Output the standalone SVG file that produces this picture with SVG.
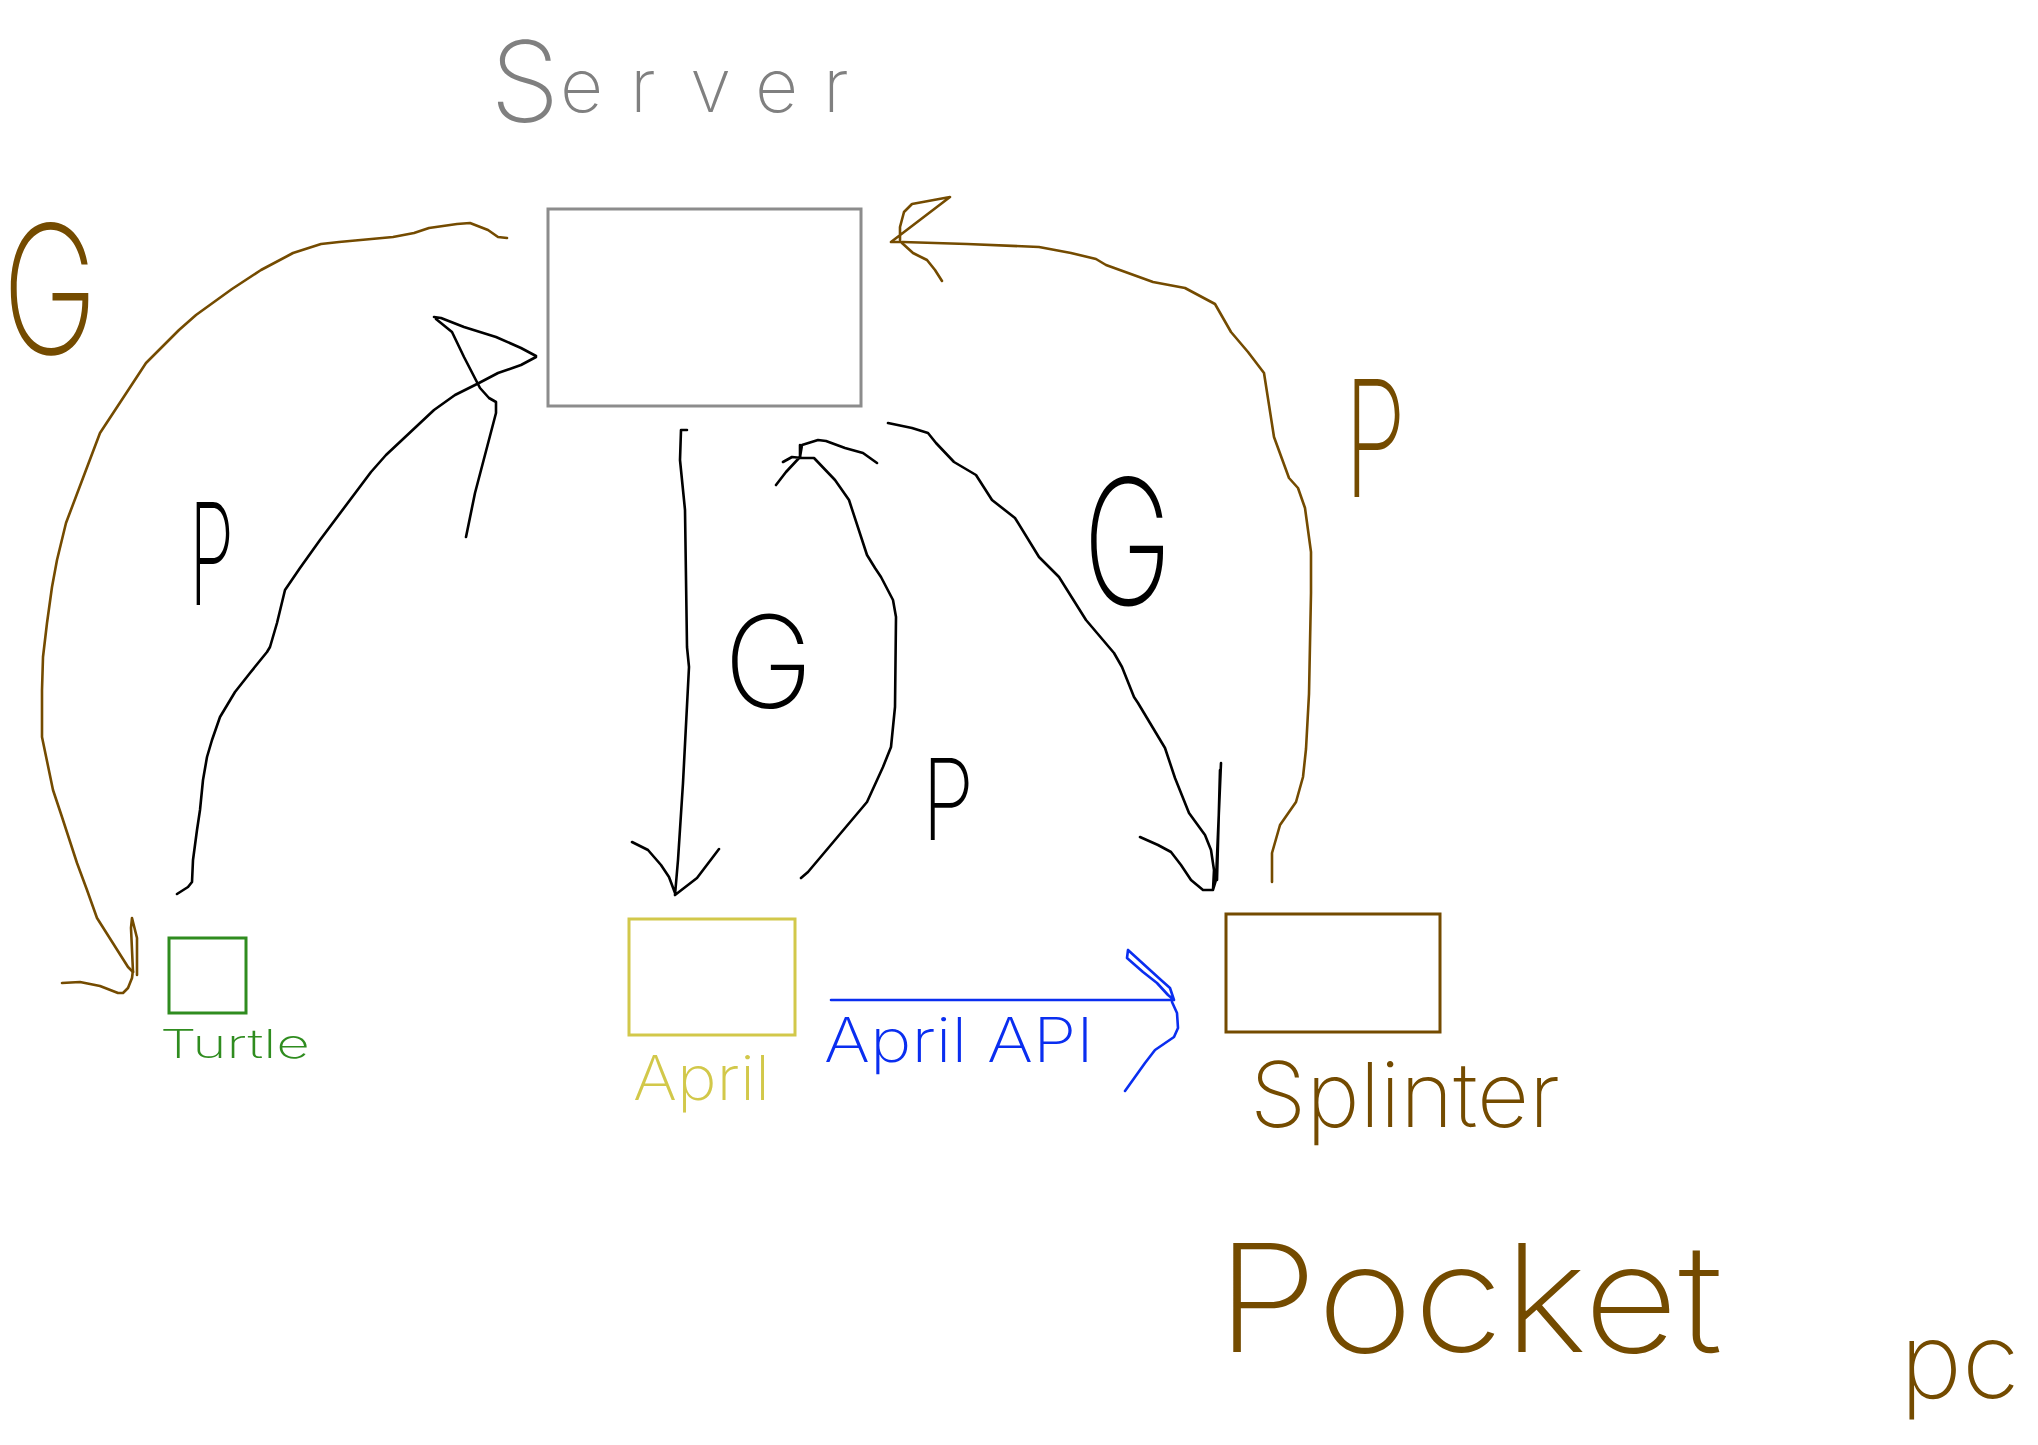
<svg xmlns="http://www.w3.org/2000/svg" width="2038" height="1445" viewBox="0 0 2038 1445">
<style>
.ink{fill:none;stroke-width:2.6;stroke-linejoin:round;stroke-linecap:round}
.blk{stroke:#000}
.brn{stroke:#744b00}
.blu{stroke:#0a2ef0}
.box{fill:none;stroke-width:3}
.t{font-family:Inter,"Open Sans","Liberation Sans",sans-serif;font-weight:200}
.lb{fill:#000}
.lbr{fill:#744b00}
</style>
<rect width="2038" height="1445" fill="#fff"/>
<g id="server">
<rect class="box" x="548" y="209" width="313" height="197" stroke="#8c8c8c"/>
<text class="t" fill="#808080"><tspan x="490" y="122" font-size="112">S</tspan><tspan x="560 630 690 755 823" y="112" font-size="75">erver</tspan></text>
</g>
<g id="turtle">
<rect class="box" x="169" y="938" width="77" height="75" stroke="#2f8c1f"/>
<text class="t" x="160" y="1058" font-size="40" fill="#2f8c1f" textLength="150" lengthAdjust="spacingAndGlyphs">Turtle</text>
</g>
<g id="april">
<rect class="box" x="629" y="919" width="166" height="116" stroke="#d2c84a"/>
<text class="t" x="633" y="1100" font-size="62" fill="#d2c84a" textLength="137" lengthAdjust="spacingAndGlyphs">April</text>
</g>
<g id="splinter">
<rect class="box" x="1226" y="914" width="214" height="118" stroke="#744b00"/>
<text class="t" x="1250" y="1127" font-size="90" fill="#744b00" textLength="310" lengthAdjust="spacingAndGlyphs">Splinter</text>
</g>
<g id="pocket-pc">
<text class="t" font-size="150" fill="#744b00"><tspan x="1216" y="1352" textLength="553" lengthAdjust="spacingAndGlyphs">Pocket </tspan><tspan x="1900" y="1398" font-size="105">pc</tspan></text>
</g>
<g id="connectors">
<g id="server-turtle-G">
<path class="ink brn" d="M507,238 L498,237 L488,230 L470,223 L457,224 L429,228 L414,233 L393,237 L339,242 L321,244 L293,253 L261,270 L232,289 L196,315 L179,330 L157,352 L146,363 L125,395 L100,433 L86,470 L66,523 L57,560 L52,587 L47,623 L43,657 L42,690 L42,737 L53,790 L62,817 L77,863 L87,890 L97,918 L128,967 L133,972"/>
<path class="ink brn" d="M62,983 L80,982 L100,986 L118,993 L123,993 L128,988 L132,978 L133,970 M133,972 L131,928 L132,918 L137,938 L137,975"/>
<text class="t lbr" x="2" y="354" font-size="179" textLength="96" lengthAdjust="spacingAndGlyphs">G</text>
</g>
<g id="turtle-server-P">
<path class="ink blk" d="M177,894 L188,887 L192,882 L193,860 L197,830 L200,810 L203,780 L207,757 L212,740 L220,717 L235,692 L250,673 L267,652 L270,647 L277,623 L285,590 L300,568 L320,540 L371,472 L386,455 L434,410 L455,395 L479,383 L498,373 L521,365 L536,357"/>
<path class="ink blk" d="M434,317 L441,318 L464,327 L496,337 L521,348 L536,356 M436,319 L452,332 L464,357 L480,388 L489,398 L496,402 L496,413 L475,493 L466,537"/>
<text class="t lb" x="189" y="605" font-size="142" textLength="45" lengthAdjust="spacingAndGlyphs">P</text>
</g>
<g id="server-april-G">
<path class="ink blk" d="M687,430 L681,430 L680,460 L685,510 L687,647 L689,667 L683,783 L678,860 L675,895 M632,842 L648,850 L661,865 L669,877 L675,893 M719,849 L697,878 L675,895"/>
<text class="t lb" x="724" y="708" font-size="128" textLength="89" lengthAdjust="spacingAndGlyphs">G</text>
</g>
<g id="april-server-P">
<path class="ink blk" d="M801,878 L808,872 L867,802 L883,767 L891,747 L895,707 L896,617 L893,600 L881,577 L875,568 L867,555 L849,500 L835,480 L814,458 L802,458 L792,457 L783,462 M776,485 L786,472 L800,457 L802,445 L818,440 L826,441 L845,448 L863,453 L877,463 M800,445 L800,458"/>
<text class="t lb" x="922" y="840" font-size="113" textLength="52" lengthAdjust="spacingAndGlyphs">P</text>
</g>
<g id="server-splinter-G">
<path class="ink blk" d="M888,423 L912,428 L928,433 L936,443 L954,462 L976,475 L992,500 L1015,518 L1039,557 L1059,577 L1086,620 L1114,653 L1122,667 L1134,697 L1138,703 L1165,748 L1175,778 L1189,813 L1205,835 L1211,850 L1214,870 L1213,890 M1140,837 L1158,845 L1171,852 L1181,865 L1191,880 L1203,890 L1213,890 L1216,880 L1221,763 M1217,880 L1220,770"/>
<text class="t lb" x="1083" y="605" font-size="175" textLength="89" lengthAdjust="spacingAndGlyphs">G</text>
</g>
<g id="splinter-server-P">
<path class="ink brn" d="M1272,882 L1272,853 L1280,825 L1296,802 L1303,777 L1306,749 L1309,694 L1311,593 L1311,552 L1305,508 L1298,488 L1289,478 L1274,437 L1264,373 L1248,352 L1231,332 L1215,304 L1185,288 L1153,282 L1106,265 L1096,259 L1071,253 L1039,247 L967,244 L903,242 L892,242"/>
<path class="ink brn" d="M891,242 L950,197 L912,204 L904,212 L900,227 L900,240 M902,243 L913,253 L927,260 L935,270 L942,281"/>
<text class="t lbr" x="1344" y="497" font-size="162" textLength="62" lengthAdjust="spacingAndGlyphs">P</text>
</g>
<g id="april-splinter-api">
<path class="ink blu" d="M831,1000 L1174,1000 M1128,950 L1127,958 L1143,972 L1157,983 L1168,995 L1174,1000 L1170,988 L1161,980 L1128,950 M1172,1002 L1177,1013 L1178,1028 L1174,1037 L1155,1050 L1145,1063 L1125,1091"/>
<text class="t" x="824" y="1062" font-size="61" fill="#0a2ef0" textLength="270" lengthAdjust="spacingAndGlyphs">April API</text>
</g>
</g>
</svg>
